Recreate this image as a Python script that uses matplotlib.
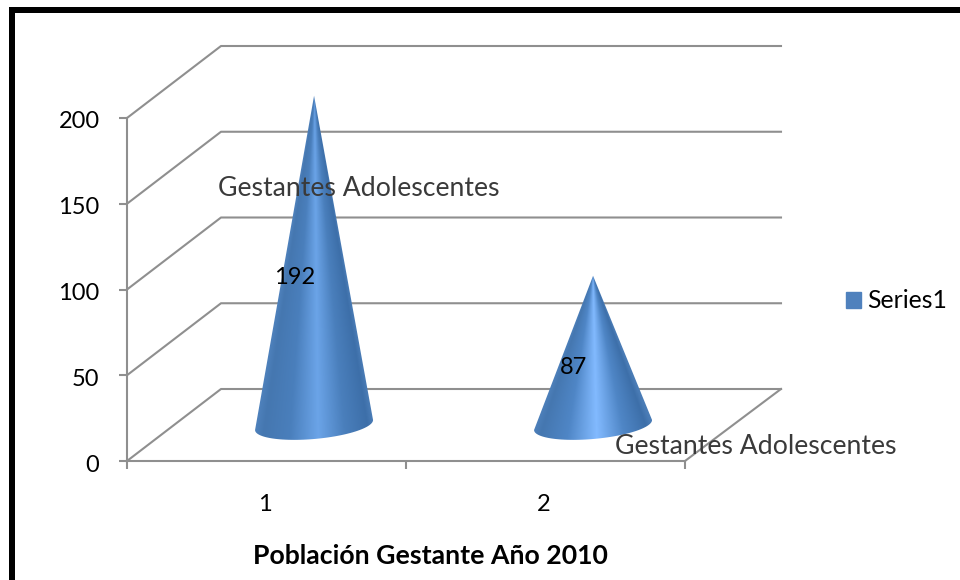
import matplotlib
matplotlib.use('Agg')
import matplotlib.pyplot as plt
import numpy as np
from matplotlib.colors import LinearSegmentedColormap
from matplotlib.patches import Patch, PathPatch, Rectangle
from matplotlib.path import Path
from matplotlib.transforms import ScaledTranslation

categories = [1, 2]
values = [192, 87]
y_ticks = [0, 50, 100, 150, 200]
series_name = 'Series1'
axis_title = 'Población Gestante Año 2010'
depth_title = 'Gestantes Adolescentes'

W, H = 960, 580
GRID = '#8f8f8f'

plt.rcParams['font.family'] = ['Lato', 'DejaVu Sans']

fig = plt.figure(figsize=(W / 100, H / 100), dpi=100)
ax = fig.add_axes([127 / W, (H - 461) / H, 558 / W, 343 / H])
ax.set_xlim(0.5, 2.5)
ax.set_ylim(0, 200)
ax.patch.set_visible(False)

# fake 3d: back wall is the front axes pushed by this much
depth_x = 94 / 279
depth_y = 72 / 1.715
right_end = 2.5 + 96 / 279

for t in y_ticks:
    ax.plot([0.5, 0.5 + depth_x, right_end], [t, t + depth_y, t + depth_y],
            color=GRID, lw=1.5, clip_on=False, zorder=1)
ax.plot([2.5, right_end], [0, depth_y], color=GRID, lw=1.5, clip_on=False, zorder=1)

cmaps = [
    LinearSegmentedColormap.from_list('c1', [(0, '#4f82bd'), (0.08, '#4577b0'), (0.3, '#4a7fbc'),
                                             (0.53, '#6ba4e8'), (0.75, '#4a7fbc'),
                                             (0.95, '#3d6fa9'), (1, '#4a7cb6')]),
    LinearSegmentedColormap.from_list('c2', [(0, '#4f82bd'), (0.08, '#4577b0'), (0.3, '#4f86c6'),
                                             (0.53, '#82baff'), (0.75, '#4f86c6'),
                                             (0.95, '#3d6fa9'), (1, '#4a7cb6')]),
]

half_w = 59 / 279
semi_y = 14 / 1.715
tilt = 5 / 1.715
for cat, val, cmap in zip(categories, values, cmaps):
    cx = cat + depth_x / 2 + 0.002
    base = depth_y / 2
    apex = base + val

    # outline: apex, then round the front of the tilted base ellipse
    t = np.linspace(0, np.pi, 60)
    px = cx + half_w * np.cos(t)
    py = base + tilt * np.cos(t) - semi_y * np.sin(t)
    verts = [(cx, apex)] + list(zip(px, py)) + [(cx, apex)]
    codes = [Path.MOVETO] + [Path.LINETO] * (len(verts) - 2) + [Path.CLOSEPOLY]
    outline = PathPatch(Path(verts, codes), fc='none', ec='none', zorder=2, clip_on=False)
    ax.add_patch(outline)

    # shading follows the cone: it narrows toward the apex
    gx = np.linspace(cx - half_w, cx + half_w, 240)
    gy = np.linspace(base - semi_y - tilt, apex, 400)
    xx, yy = np.meshgrid(gx, gy)
    frac = np.clip((apex - yy) / val, 0.01, None)
    u = (xx - cx) / (half_w * frac)
    im = ax.imshow(u, extent=(gx[0], gx[-1], gy[0], gy[-1]), origin='lower', cmap=cmap,
                   vmin=-1, vmax=1, aspect='auto', zorder=2, interpolation='bilinear')
    im.set_clip_path(outline)
    im.set_clip_box(fig.bbox)  # the first cone goes above the axes top
    ax.text(cx - 0.07, val / 2 + 11, str(val), ha='center', va='center',
            fontsize=17, color='black', zorder=4)

ax.set_xlim(0.5, 2.5)
ax.set_ylim(0, 200)

for side in ['top', 'right']:
    ax.spines[side].set_visible(False)
for side in ['left', 'bottom']:
    ax.spines[side].set_color(GRID)
    ax.spines[side].set_linewidth(1.5)

ax.set_yticks(y_ticks)
ax.tick_params(axis='y', length=5.8, width=1.5, color=GRID, pad=14, labelsize=17)
ax.set_xticks([0.5, 1.5, 2.5])
ax.set_xticklabels([])
ax.set_xticks(categories, minor=True)
ax.set_xticklabels([str(c) for c in categories], minor=True)
ax.tick_params(axis='x', which='major', length=5.8, width=1.5, color=GRID)
ax.tick_params(axis='x', which='minor', length=0, pad=24, labelsize=17)

# nudge tick labels a little, tick_params has no setting for this
shift_y = ScaledTranslation(0, -2 / 100, fig.dpi_scale_trans)
for label in ax.get_yticklabels():
    label.set_transform(label.get_transform() + shift_y)
shift_x = ScaledTranslation(-2 / 100, 0, fig.dpi_scale_trans)
for label in ax.get_xticklabels(minor=True):
    label.set_transform(label.get_transform() + shift_x)

fig.text(430 / W, 1 - 556 / H, axis_title, ha='center', va='center',
         fontsize=19.2, fontweight='bold', color='black')
fig.text(218 / W, 1 - 188 / H, depth_title, ha='left', va='center', fontsize=19.2, color='#3a3a3a')
fig.text(615 / W, 1 - 446 / H, depth_title, ha='left', va='center', fontsize=19.2, color='#3a3a3a')

fig.legend(handles=[Patch(color='#4f81bd', label=series_name)], loc='center left',
           bbox_to_anchor=(846 / W, 1 - 301 / H), frameon=False, fontsize=17.8,
           handlelength=0.62, handleheight=0.62, handletextpad=0.25,
           borderpad=0, borderaxespad=0)

# black frame, only left and top are in the picture
fig.add_artist(Rectangle((9 / W, 0), 6 / W, 1 - 7 / H, transform=fig.transFigure,
                         fc='black', ec='none'))
fig.add_artist(Rectangle((9 / W, 1 - 13 / H), 951 / W, 6 / H, transform=fig.transFigure,
                         fc='black', ec='none'))

fig.savefig('out.png', dpi=100)
